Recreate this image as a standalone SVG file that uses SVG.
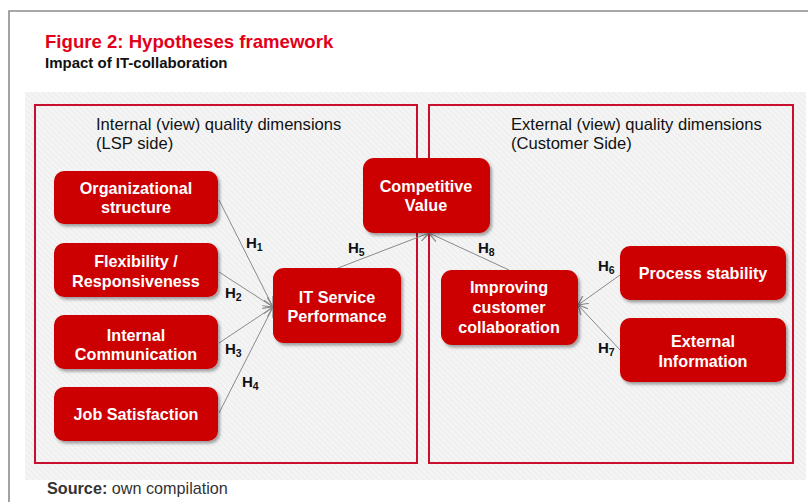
<svg xmlns="http://www.w3.org/2000/svg" width="808" height="502" viewBox="0 0 808 502">
<defs>
<style>
.title{font-family:"Liberation Sans",Arial,sans-serif;font-size:18.6px;font-weight:bold;fill:#e2001a}
.sub{font-family:"Liberation Sans",Arial,sans-serif;font-size:15px;font-weight:bold;fill:#111}
.head{font-family:"Liberation Sans",Arial,sans-serif;font-size:16.6px;fill:#111}
.node rect{fill:#cc0000;filter:url(#sh)}
.node text{font-family:"Liberation Sans",Arial,sans-serif;font-size:16.2px;font-weight:bold;fill:#fff;text-anchor:middle}
.group{fill:none;stroke:#c8102e;stroke-width:2}
.conn line{stroke:#8a8a8a;stroke-width:1;marker-end:url(#arr)}
.hl{font-family:"Liberation Sans",Arial,sans-serif;font-size:15px;font-weight:bold;fill:#111}
.hl tspan.s{font-size:10.5px}
.src{font-family:"Liberation Sans",Arial,sans-serif;font-size:16.2px;fill:#333}
</style>
<pattern id="hatch" width="4" height="4" patternUnits="userSpaceOnUse" patternTransform="rotate(-45)">
<rect width="4" height="4" fill="#f4f4f4"/>
<line x1="0" y1="0" x2="0" y2="4" stroke="#e4e4e4" stroke-width="1"/>
</pattern>
<filter id="sh" x="-10%" y="-10%" width="130%" height="140%">
<feDropShadow dx="2" dy="2.5" stdDeviation="1.5" flood-color="#000" flood-opacity="0.35"/>
</filter>
<marker id="arr" viewBox="0 0 10 10" refX="10" refY="5" markerWidth="10" markerHeight="10" markerUnits="userSpaceOnUse" orient="auto">
<path d="M0,0 L10,5 L0,10" fill="none" stroke="#8a8a8a" stroke-width="1.2"/>
</marker>
</defs>
<rect x="0" y="0" width="808" height="502" fill="#fff"/>
<path d="M9,502 V11 H808" fill="none" stroke="#8c8c8c" stroke-width="1.6"/>
<text class="title" x="45" y="48">Figure 2: Hypotheses framework</text>
<text class="sub" x="45" y="68">Impact of IT-collaboration</text>
<rect x="25" y="92" width="781" height="388" fill="url(#hatch)"/>
<g id="internal-group">
<rect class="group" x="35" y="105" width="382" height="358"/>
<text class="head" x="96" y="130">Internal (view) quality dimensions</text>
<text class="head" x="96" y="149">(LSP side)</text>
</g>
<g id="external-group">
<rect class="group" x="429" y="105" width="364" height="358"/>
<text class="head" x="511" y="130">External (view) quality dimensions</text>
<text class="head" x="511" y="149">(Customer Side)</text>
</g>
<g id="connectors" class="conn">
<line x1="219" y1="200" x2="273" y2="307"/>
<line x1="219" y1="272" x2="273" y2="307"/>
<line x1="219" y1="343" x2="273" y2="307"/>
<line x1="219" y1="413" x2="273" y2="307"/>
<line x1="338" y1="268" x2="429" y2="233"/>
<line x1="509" y1="270" x2="429" y2="233"/>
<line x1="620" y1="275" x2="578" y2="305"/>
<line x1="620" y1="350" x2="578" y2="305"/>
</g>
<g id="labels">
<text class="hl" x="246" y="248">H<tspan class="s" dy="3">1</tspan></text>
<text class="hl" x="225" y="298">H<tspan class="s" dy="3">2</tspan></text>
<text class="hl" x="225" y="354">H<tspan class="s" dy="3">3</tspan></text>
<text class="hl" x="242" y="387">H<tspan class="s" dy="3">4</tspan></text>
<text class="hl" x="348" y="253">H<tspan class="s" dy="3">5</tspan></text>
<text class="hl" x="598" y="271">H<tspan class="s" dy="3">6</tspan></text>
<text class="hl" x="598" y="353">H<tspan class="s" dy="3">7</tspan></text>
<text class="hl" x="478" y="253">H<tspan class="s" dy="3">8</tspan></text>
</g>
<g id="n-org" class="node">
<rect x="54" y="171" width="164" height="53" rx="10"/>
<text x="136" y="194">Organizational</text>
<text x="136" y="213">structure</text>
</g>
<g id="n-flex" class="node">
<rect x="54" y="243" width="164" height="54" rx="10"/>
<text x="136" y="267">Flexibility /</text>
<text x="136" y="287">Responsiveness</text>
</g>
<g id="n-comm" class="node">
<rect x="54" y="315" width="164" height="54" rx="10"/>
<text x="136" y="341">Internal</text>
<text x="136" y="360">Communication</text>
</g>
<g id="n-job" class="node">
<rect x="54" y="387" width="164" height="54" rx="10"/>
<text x="136" y="420">Job Satisfaction</text>
</g>
<g id="n-its" class="node">
<rect x="273" y="268" width="128" height="75" rx="11"/>
<text x="337" y="303">IT Service</text>
<text x="337" y="322">Performance</text>
</g>
<g id="n-cv" class="node">
<rect x="363" y="158" width="127" height="75" rx="11"/>
<text x="426" y="192">Competitive</text>
<text x="426" y="211">Value</text>
</g>
<g id="n-icc" class="node">
<rect x="441" y="270" width="137" height="75" rx="11"/>
<text x="509" y="293">Improving</text>
<text x="509" y="313">customer</text>
<text x="509" y="333">collaboration</text>
</g>
<g id="n-ps" class="node">
<rect x="620" y="246" width="166" height="54" rx="10"/>
<text x="703" y="279">Process stability</text>
</g>
<g id="n-ei" class="node">
<rect x="620" y="318" width="166" height="64" rx="10"/>
<text x="703" y="347">External</text>
<text x="703" y="367">Information</text>
</g>
<text class="src" x="47" y="494"><tspan font-weight="bold">Source:</tspan> own compilation</text>
</svg>
